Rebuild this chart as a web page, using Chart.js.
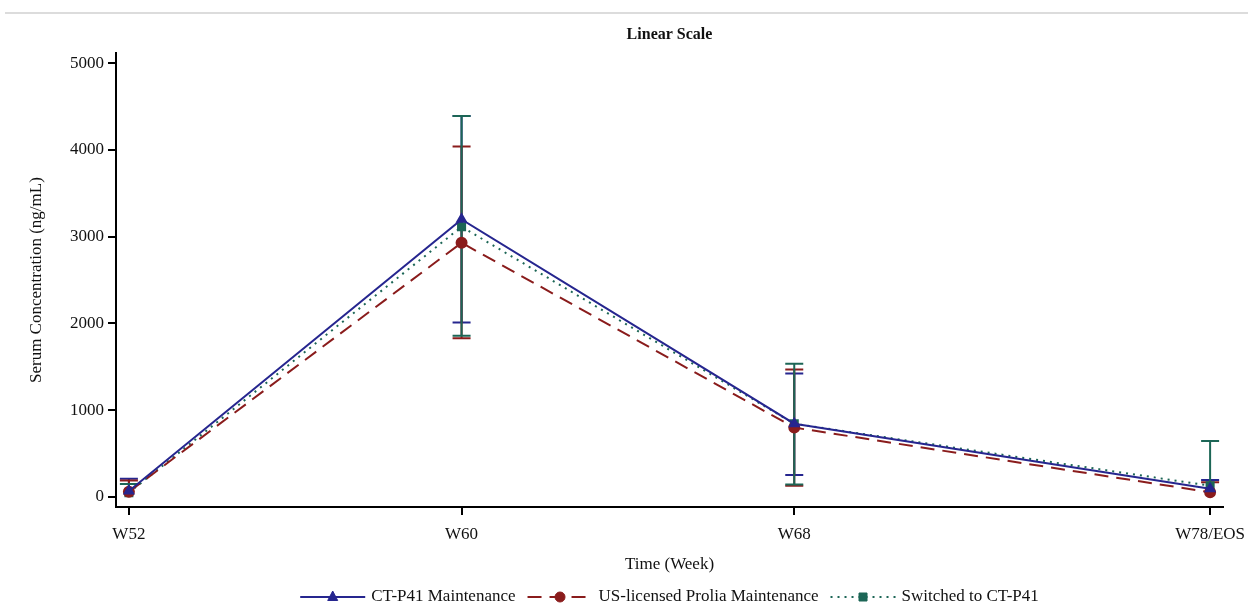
<!DOCTYPE html>
<html>
<head>
<meta charset="utf-8">
<script src="https://cdn.jsdelivr.net/npm/chart.js@4.4.1/dist/chart.umd.min.js"></script>
<style>
  html, body { margin: 0; padding: 0; background: #ffffff; }
  #wrap { width: 1248px; height: 610px; position: relative; }
  canvas { display: block; }
</style>
</head>
<body>
<div id="wrap"><canvas id="c" width="1248" height="610"></canvas></div>
<script>
// ---- Data ----
const weeks = [52, 60, 68, 78];
const weekLabels = ['W52', 'W60', 'W68', 'W78/EOS'];
const yTicks = [0, 1000, 2000, 3000, 4000, 5000];

const seriesNames = ['CT-P41 Maintenance', 'US-licensed Prolia Maintenance', 'Switched to CT-P41'];

const ctMean  = [70, 3200, 845, 95];
const ctUpper = [210, 4390, 1425, 195];
const ctLower = [null, 2010, 255, null];

const usMean  = [60, 2930, 800, 55];
const usUpper = [190, 4040, 1470, 170];
const usLower = [null, 1830, 130, null];

const swMean  = [50, 3115, 845, 130];
const swUpper = [150, 4390, 1535, 645];
const swLower = [null, 1860, 145, null];

// ---- Styles ----
const FONT = '"Liberation Serif", "Times New Roman", serif';
const NAVY = '#26268f';
const MAROON = '#8a1c1c';
const TEAL = '#1c6656';
const TEXT = '#111';

function pts(vals) { return weeks.map((w, i) => ({ x: w, y: vals[i] })); }

const errors = [
  { upper: ctUpper, lower: ctLower, color: NAVY },
  { upper: usUpper, lower: usLower, color: MAROON },
  { upper: swUpper, lower: swLower, color: TEAL }
];

const topRule = {
  id: 'topRule',
  beforeDraw(chart) {
    const ctx = chart.ctx;
    ctx.save();
    ctx.strokeStyle = '#dcdcdc';
    ctx.lineWidth = 2;
    ctx.beginPath();
    ctx.moveTo(5, 13);
    ctx.lineTo(1248, 13);
    ctx.stroke();
    ctx.restore();
  }
};

const errorBars = {
  id: 'errorBars',
  beforeDatasetsDraw(chart) {
    const ctx = chart.ctx;
    const xs = chart.scales.x, ys = chart.scales.y;
    const area = chart.chartArea;
    ctx.save();
    ctx.beginPath();
    ctx.rect(area.left, area.top, area.right - area.left, area.bottom - area.top);
    ctx.clip();
    errors.forEach((e, di) => {
      const mean = chart.data.datasets[di].data;
      ctx.strokeStyle = e.color;
      ctx.lineWidth = 2;
      ctx.setLineDash([]);
      weeks.forEach((w, i) => {
        const px = xs.getPixelForValue(w);
        const pm = ys.getPixelForValue(mean[i].y);
        const hw = 9;
        if (e.upper[i] != null) {
          const pu = ys.getPixelForValue(e.upper[i]);
          ctx.beginPath(); ctx.moveTo(px, pm); ctx.lineTo(px, pu); ctx.stroke();
          ctx.beginPath(); ctx.moveTo(px - hw, pu); ctx.lineTo(px + hw, pu); ctx.stroke();
        }
        if (e.lower[i] != null) {
          const pl = ys.getPixelForValue(e.lower[i]);
          ctx.beginPath(); ctx.moveTo(px, pm); ctx.lineTo(px, pl); ctx.stroke();
          ctx.beginPath(); ctx.moveTo(px - hw, pl); ctx.lineTo(px + hw, pl); ctx.stroke();
        }
      });
    });
    ctx.restore();
  }
};

const customLegend = {
  id: 'customLegend',
  afterDraw(chart) {
    const ctx = chart.ctx;
    const area = chart.chartArea;
    const y = 597;
    const lineLen = 65, gapText = 6, gapItem = 12;
    ctx.save();
    ctx.font = '17px ' + FONT;
    const widths = chart.data.datasets.map(ds => lineLen + gapText + ctx.measureText(ds.label).width);
    const total = widths.reduce((a, b) => a + b, 0) + gapItem * (widths.length - 1);
    let x = (area.left + area.right) / 2 - total / 2;
    chart.data.datasets.forEach((ds, i) => {
      ctx.strokeStyle = ds.borderColor;
      ctx.lineWidth = 2;
      ctx.setLineDash(ds.borderDash || []);
      ctx.beginPath(); ctx.moveTo(x, y); ctx.lineTo(x + lineLen, y); ctx.stroke();
      ctx.setLineDash([]);
      ctx.fillStyle = ds.pointBackgroundColor;
      ctx.strokeStyle = ds.pointBorderColor;
      ctx.lineWidth = 1;
      ctx.beginPath();
      const r = 5;
      const cx = x + lineLen / 2;
      if (ds.pointStyle === 'triangle') {
        ctx.moveTo(cx, y - r * 1.2); ctx.lineTo(cx + r, y + r * 0.7); ctx.lineTo(cx - r, y + r * 0.7); ctx.closePath();
      } else if (ds.pointStyle === 'circle') {
        ctx.arc(cx, y, r, 0, Math.PI * 2);
      } else {
        ctx.rect(cx - r * 0.8, y - r * 0.8, r * 1.6, r * 1.6);
      }
      ctx.fill(); ctx.stroke();
      ctx.fillStyle = TEXT;
      ctx.textBaseline = 'middle';
      ctx.textAlign = 'left';
      ctx.fillText(ds.label, x + lineLen + gapText, y);
      x += widths[i] + gapItem;
    });
    ctx.restore();
  }
};

new Chart(document.getElementById('c'), {
  type: 'line',
  data: {
    datasets: [
      {
        label: seriesNames[0], data: pts(ctMean),
        borderColor: NAVY, backgroundColor: NAVY, borderWidth: 2,
        pointStyle: 'triangle', pointRadius: 5, pointBackgroundColor: NAVY, pointBorderColor: NAVY,
        tension: 0, order: 0
      },
      {
        label: seriesNames[1], data: pts(usMean),
        borderColor: MAROON, backgroundColor: MAROON, borderWidth: 2, borderDash: [14, 8],
        pointStyle: 'circle', pointRadius: 5, pointBackgroundColor: MAROON, pointBorderColor: MAROON,
        tension: 0, order: 1
      },
      {
        label: seriesNames[2], data: pts(swMean),
        borderColor: TEAL, backgroundColor: TEAL, borderWidth: 2, borderDash: [2, 5],
        pointStyle: 'rect', pointRadius: 5, pointBackgroundColor: TEAL, pointBorderColor: TEAL,
        tension: 0, order: 2
      }
    ]
  },
  options: {
    responsive: false,
    animation: false,
    devicePixelRatio: 1,
    layout: { padding: { left: 0, right: 25, top: 0, bottom: 25 } },
    plugins: {
      legend: { display: false },
      tooltip: { enabled: false },
      title: {
        display: true, text: 'Linear Scale', fullSize: false,
        color: TEXT, font: { family: FONT, size: 16, weight: 'bold' },
        padding: { top: 25, bottom: 9 }
      }
    },
    scales: {
      x: {
        type: 'linear', min: 51.69, max: 78.31,
        afterBuildTicks: axis => { axis.ticks = weeks.map(v => ({ value: v })); },
        afterFit: axis => { axis.height = 78; axis.paddingLeft = 0; axis.paddingRight = 0; },
        grid: { drawOnChartArea: false, drawTicks: true, tickLength: 8, color: '#000', lineWidth: 2 },
        border: { display: true, color: '#000', width: 2 },
        ticks: {
          autoSkip: false, maxRotation: 0, padding: 9, color: TEXT,
          font: { family: FONT, size: 17 },
          callback: v => { const i = weeks.indexOf(v); return i >= 0 ? weekLabels[i] : ''; }
        },
        title: {
          display: true, text: 'Time (Week)', color: TEXT,
          font: { family: FONT, size: 17 }, padding: { top: 0, bottom: 10 }
        }
      },
      y: {
        type: 'linear', min: -115, max: 5115,
        afterBuildTicks: axis => { axis.ticks = yTicks.map(v => ({ value: v })); },
        afterFit: axis => { axis.width = 116; },
        grid: { drawOnChartArea: false, drawTicks: true, tickLength: 8, color: '#000', lineWidth: 2 },
        border: { display: true, color: '#000', width: 2 },
        ticks: {
          padding: 4, color: TEXT,
          font: { family: FONT, size: 17 },
          callback: v => String(v)
        },
        title: {
          display: true, text: 'Serum Concentration (ng/mL)', color: TEXT,
          font: { family: FONT, size: 17 }, padding: { top: 26, bottom: 0 }
        }
      }
    }
  },
  plugins: [topRule, errorBars, customLegend]
});
</script>
</body>
</html>
